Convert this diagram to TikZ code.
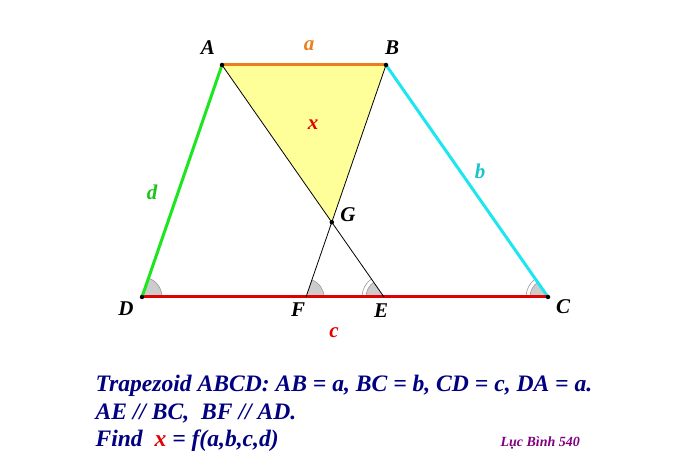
\documentclass[tikz,border=0pt]{standalone}
\usepackage{fontspec}
\setmainfont{Liberation Serif}
\usetikzlibrary{calc, angles}
\definecolor{mNavy}{HTML}{000080}
\definecolor{mPurple}{HTML}{800080}
\definecolor{mOrange}{HTML}{EA7D1C}
\definecolor{mGreen}{HTML}{1EE61E}
\definecolor{mCyan}{HTML}{1EE6F0}
\definecolor{mRed}{HTML}{E00000}
\definecolor{mYellow}{HTML}{FFFF99}

\begin{document}
\begin{tikzpicture}[x=1pt, y=1pt,
  font=\bfseries\itshape\fontsize{21}{24}\selectfont,
  side/.style={line width=3pt},
  cevian/.style={line width=0.8pt, black},
  dot/.style={circle, fill=black, inner sep=0pt, minimum size=4.5pt},
  anglemark/.style={draw=gray!80, fill=gray!40, line width=0.6pt, angle radius=18pt},
  anglering/.style={draw=gray!80, line width=0.6pt, angle radius=22pt},
  task/.style={anchor=base west, text=mNavy, font=\bfseries\itshape\fontsize{23.6}{27}\selectfont},
]
  \useasboundingbox (0,0) rectangle (698,476);
  % Vertices
  \coordinate (A) at (222,411);
  \coordinate (B) at (386,411);
  \coordinate (C) at (548,179);
  \coordinate (D) at (142,179);
  \coordinate (E) at ($(A)+(C)-(B)$);
  \coordinate (F) at ($(B)+(D)-(A)$);
  \coordinate (G) at (intersection of A--E and B--F);
  % Triangle x
  \fill[mYellow] (A) -- (B) -- (G) -- cycle;
  % Angle marks
  \pic[anglemark, angle radius=20pt] {angle=C--D--A};
  \pic[anglemark] {angle=E--F--B};
  \pic[anglemark] {angle=A--E--D};
  \pic[anglering] {angle=A--E--D};
  \pic[anglemark] {angle=B--C--D};
  \pic[anglering] {angle=B--C--D};
  % Sides
  \draw[side, mOrange] (A) -- (B);
  \draw[side, mCyan] (B) -- (C);
  \draw[side, mRed] (C) -- (D);
  \draw[side, mGreen] (D) -- (A);
  \draw[cevian] (A) -- (E);
  \draw[cevian] (B) -- (F);
  \foreach \p in {A,B,C,D,G}
    \node[dot] (dot\p) at (\p) {};
  % Labels
  \node (lA) at (208,428) {A};
  \node (lB) at (392,428) {B};
  \node (lC) at (563,169) {C};
  \node (lD) at (126,167) {D};
  \node (lE) at (381,165) {E};
  \node (lF) at (298,166) {F};
  \node (lG) at (348,261) {G};
  \node[mOrange] (la) at (309,430) {a};
  \node[mCyan!85!black] (lb) at (480,305) {b};
  \node[mRed] (lc) at (334,143) {c};
  \node[mGreen!85!black] (ld) at (152,284) {d};
  \node[mRed] (lx) at (313,351) {x};
  % Problem text
  \node[task] (line1) at (92,84) {Trapezoid ABCD: AB = a, BC = b, CD = c, DA = a.};
  \node[task] (line2) at (92,56) {AE // BC,\ \ BF // AD.};
  \node[task] (line3) at (92,29) {Find\ \ \textcolor{mRed}{x} = f(a,b,c,d)};
  \node[anchor=base west, text=mPurple, font=\bfseries\itshape\fontsize{14}{16}\selectfont] (sign) at (497,29) {Lục Bình 540};
\end{tikzpicture}
\end{document}
